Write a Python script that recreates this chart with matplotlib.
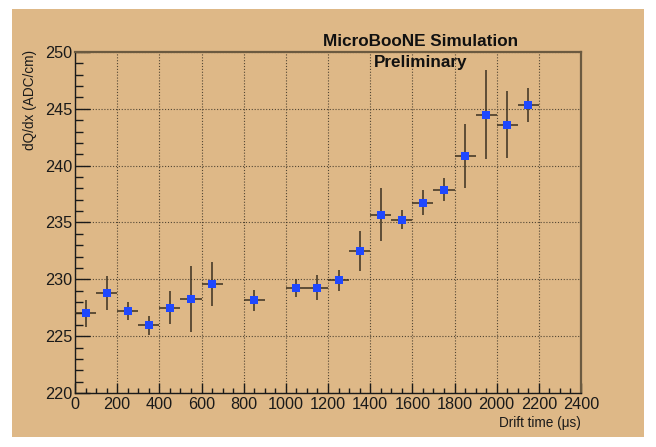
import matplotlib
matplotlib.use("Agg")
import matplotlib.pyplot as plt
from matplotlib.patches import Rectangle
from matplotlib.ticker import MultipleLocator

# Data
drift_time = [50, 150, 250, 350, 450, 550, 650, 850, 1050, 1150, 1250, 1350,
              1450, 1550, 1650, 1750, 1850, 1950, 2050, 2150]
dqdx = [227.0, 228.8, 227.2, 225.95, 227.5, 228.3, 229.6, 228.15, 229.25, 229.25,
        229.9, 232.5, 235.7, 235.25, 236.75, 237.9, 240.85, 244.5, 243.6, 245.3]
dqdx_err = [1.15, 1.5, 0.8, 0.85, 1.45, 2.9, 1.95, 0.9, 0.8, 1.1,
            0.9, 1.75, 2.35, 0.85, 1.1, 1.05, 2.8, 3.9, 2.95, 1.5]
time_err = [50] * len(drift_time)

x_ticks = [0, 200, 400, 600, 800, 1000, 1200, 1400, 1600, 1800, 2000, 2200, 2400]
y_ticks = [220, 225, 230, 235, 240, 245, 250]

plt.rcParams['font.family'] = ['Liberation Sans', 'DejaVu Sans']

W, H = 656, 447
fig = plt.figure(figsize=(W / 100, H / 100), dpi=100, facecolor='white')
tan = '#deb887'
bg = Rectangle((12 / W, 1 - 437 / H), (644 - 12) / W, (437 - 9) / H,
               transform=fig.transFigure, facecolor=tan, edgecolor='none', zorder=-10)
fig.add_artist(bg)

ax = fig.add_axes([75 / W, 1 - 393 / H, (581 - 75) / W, (393 - 52) / H])
ax.set_zorder(1)
ax.set_facecolor(tan)

ax.errorbar(drift_time, dqdx, yerr=dqdx_err, xerr=time_err, fmt='s',
            color='#1f48ff', markersize=5.2, markeredgewidth=0,
            ecolor='#3a3020', elinewidth=1.1, capsize=2.2, capthick=1.0, zorder=3)

ax.set_xlim(0, 2400)
ax.set_ylim(220, 250)
ax.set_xticks(x_ticks)
ax.set_yticks(y_ticks)
ax.xaxis.set_minor_locator(MultipleLocator(50))
ax.yaxis.set_minor_locator(MultipleLocator(1))

ax.tick_params(axis='both', which='both', direction='in', colors='#1a1a1a',
               labelsize=11.7, top=False, right=False)
ax.tick_params(axis='y', which='major', length=11, width=1.0, pad=2)
ax.tick_params(axis='y', which='minor', length=6, width=1.0)
ax.tick_params(axis='x', which='major', length=7.5, width=1.0, pad=3)
ax.tick_params(axis='x', which='minor', length=3.8, width=1.0)

ax.grid(True, which='major', color='#3a3225', linestyle=(0, (1, 1.6)),
        linewidth=0.8, alpha=0.85)
ax.set_axisbelow(True)

for side in ['left', 'bottom']:
    ax.spines[side].set_color('#1a1a1a')
    ax.spines[side].set_linewidth(1.0)
for side in ['top', 'right']:
    ax.spines[side].set_color('#6b5a40')
    ax.spines[side].set_linewidth(1.6)

ax.set_ylabel('dQ/dx (ADC/cm)', fontsize=9.8, color='#1a1a1a')
ax.yaxis.set_label_coords(-0.075, 0.86)
ax.set_xlabel('Drift time (\u03bcs)', fontsize=9.8, color='#1a1a1a')
ax.xaxis.set_label_coords(1.0, -0.068)
ax.xaxis.label.set_horizontalalignment('right')

fig.text(420.5 / W, 1 - 42 / H, 'MicroBooNE Simulation', fontsize=12.3,
         fontweight='bold', ha='center', va='center', color='#111111', zorder=5)
fig.text(420.5 / W, 1 - 62 / H, 'Preliminary', fontsize=12.3,
         fontweight='bold', ha='center', va='center', color='#111111', zorder=5)

fig.savefig('out.png', dpi=100, facecolor='white')
